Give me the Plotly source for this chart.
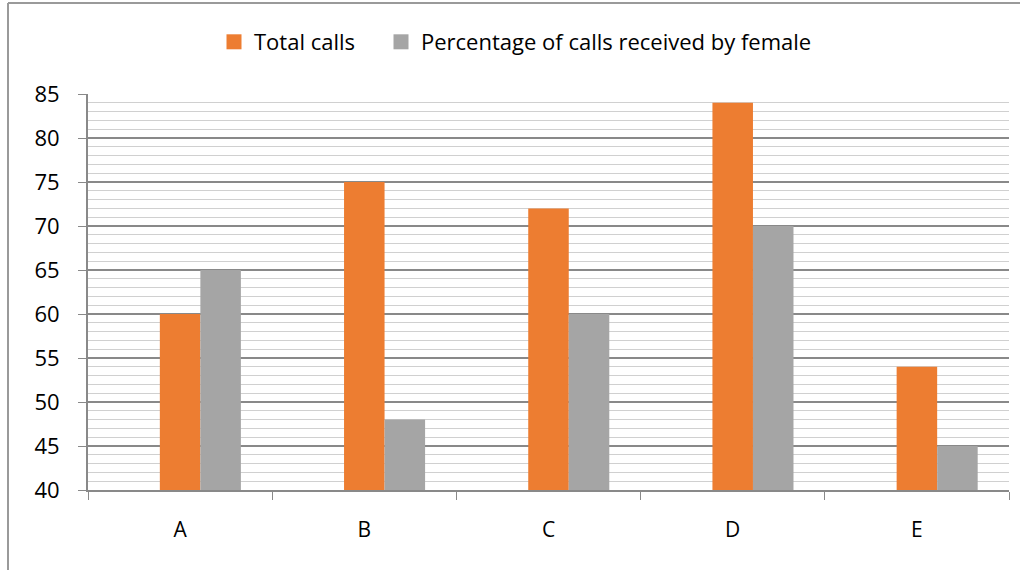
import plotly.graph_objects as go

categories = ["A", "B", "C", "D", "E"]
total_calls = [60, 75, 72, 84, 54]
female_pct = [65, 48, 60, 70, 45]
series_names = ["Total calls", "Percentage of calls received by female"]
series_colors = ["#ED7D31", "#A5A5A5"]
y_ticks = [40, 45, 50, 55, 60, 65, 70, 75, 80, 85]

W, H = 1027, 571
L, R, T, B = 88, 18, 94, 81
pw, ph = W - L - R, H - T - B

bar_w = 0.22
fig = go.Figure()
for vals, name, col, off in [(total_calls, series_names[0], series_colors[0], -bar_w / 2),
                             (female_pct, series_names[1], series_colors[1], bar_w / 2)]:
    fig.add_trace(go.Bar(x=categories, y=vals, name=name, width=bar_w, offset=off,
                         showlegend=False, marker=dict(color=col, line=dict(width=0))))
# legend entries with larger square keys, one legend box each
legend_ids = ["legend", "legend2"]
for name, col, lg in zip(series_names, series_colors, legend_ids):
    fig.add_trace(go.Scatter(x=[None], y=[None], mode="markers", name=name, legend=lg,
                             marker=dict(symbol="square", size=15, color=col)))

font = "Open Sans, Noto Sans, sans-serif"
leg_common = dict(orientation="h", xanchor="left", y=1.0 + 52 / ph, yanchor="middle",
                  font=dict(size=22), itemwidth=30, bgcolor="rgba(0,0,0,0)")
fig.update_layout(
    width=W, height=H,
    margin=dict(l=L, r=R, t=T, b=B),
    paper_bgcolor="white", plot_bgcolor="white",
    barmode="overlay",
    font=dict(family=font, size=22, color="#000000"),
    showlegend=True,
    legend=dict(x=(214 - L) / pw, **leg_common),
    legend2=dict(x=(381 - L) / pw, **leg_common),
    xaxis=dict(
        type="category", tickson="boundaries", ticks="outside", ticklen=8,
        tickcolor="#898989", tickwidth=1, showline=True, linecolor="#898989", linewidth=2,
        showgrid=False, tickfont=dict(size=21), ticklabelstandoff=20,
    ),
    yaxis=dict(
        range=[40, 85], tickvals=y_ticks, ticks="outside", ticklen=8,
        tickcolor="#898989", tickwidth=1, showline=True, linecolor="#898989", linewidth=2,
        showgrid=True, gridcolor="#898989", gridwidth=2,
        minor=dict(dtick=1, showgrid=True, gridcolor="#d0d0d0", gridwidth=1, ticks=""),
        tickfont=dict(size=22), zeroline=False, ticklabelstandoff=14,
    ),
)

# outer chart border (left and top edges)
x0 = (8 - L) / pw
y_top = 1 + (T - 3) / ph
fig.add_shape(type="line", xref="paper", yref="paper", x0=x0, x1=(1020 - L) / pw,
              y0=y_top, y1=y_top, line=dict(color="#9a9a9a", width=2))
fig.add_shape(type="line", xref="paper", yref="paper", x0=x0, x1=x0,
              y0=y_top, y1=-(B - 1) / ph, line=dict(color="#9a9a9a", width=2))

fig.write_html("out.html", config={"displayModeBar": False},
               post_script="document.body.style.margin='0';document.body.style.overflow='hidden';")
